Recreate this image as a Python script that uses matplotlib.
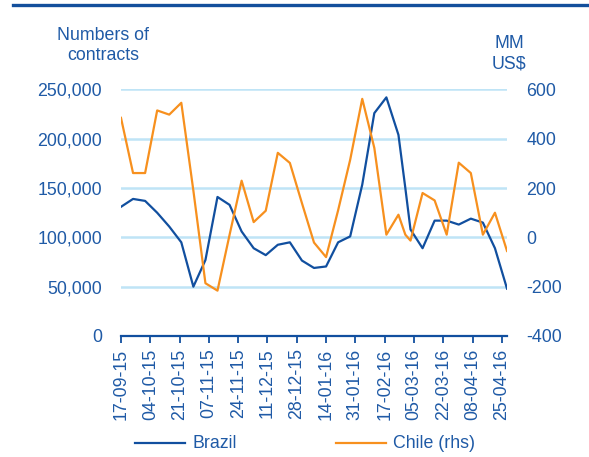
import matplotlib.pyplot as plt
import matplotlib.dates as mdates
from matplotlib.lines import Line2D
import numpy as np
import pandas as pd

plt.rcParams['font.family'] = ['Liberation Sans', 'DejaVu Sans']

# weekly observations (one extra point on 29 Feb)
dates = pd.to_datetime(
    list(pd.date_range('2015-09-17', '2016-02-25', freq='7D'))
    + [pd.Timestamp('2016-02-29')]
    + list(pd.date_range('2016-03-03', '2016-04-28', freq='7D'))
)

brazil = [131000, 139000, 137000, 125000, 111000, 95000, 50000, 77000, 141000,
          133000, 106000, 89000, 82000, 92500, 95000, 76500, 69000, 70500,
          95000, 101000, 153500, 226000, 242000, 204000, 150000, 108000, 89000,
          117000, 117000, 113000, 119000, 115000, 89000, 48000]
chile = [485, 261, 261, 515, 498, 546, 190, -186, -216, 10, 230, 62, 108, 343,
         302, 139, -21, -80, 110, 315, 562, 363, 11, 92, 11, -13, 180, 150, 11,
         303, 261, 11, 100, -55]

left_ticks = [0, 50000, 100000, 150000, 200000, 250000]
right_ticks = [-400, -200, 0, 200, 400, 600]

blue = '#114f9f'
text_blue = '#1f5aa6'
orange = '#f7901e'
grid_blue = '#bfe4f6'
fs = 12.8

fig = plt.figure(figsize=(5.89, 4.57), dpi=100)
ax = fig.add_axes([0.2054, 0.2648, 0.6554, 0.5394])
ax2 = ax.twinx()

ax.plot(dates, brazil, color=blue, lw=1.6, zorder=3)
ax2.plot(dates, chile, color=orange, lw=1.6, zorder=3)

ax.set_ylim(0, 250000)
ax2.set_ylim(-400, 600)
ax.set_xlim(dates[0], dates[-1])

ax.set_yticks(left_ticks)
ax.set_yticklabels([f'{v:,}' for v in left_ticks])
ax2.set_yticks(right_ticks)
ax2.set_yticklabels([str(v) for v in right_ticks])

xt = pd.date_range('2015-09-17', '2016-04-25', freq='17D')
ax.set_xticks(xt)
ax.xaxis.set_major_formatter(mdates.DateFormatter('%d-%m-%y'))
plt.setp(ax.get_xticklabels(), rotation=90)

for v in left_ticks[1:]:
    ax.axhline(v, color=grid_blue, lw=1.8, zorder=1)

for a in (ax, ax2):
    for s in a.spines.values():
        s.set_visible(False)
ax.spines['bottom'].set_visible(True)
ax.spines['bottom'].set_color(blue)
ax.spines['bottom'].set_linewidth(1.6)

ax.tick_params(axis='y', length=0, pad=13.5, labelsize=fs, labelcolor=text_blue)
ax2.tick_params(axis='y', length=0, pad=14, labelsize=fs, labelcolor=text_blue)
ax.tick_params(axis='x', length=5, width=1.3, color=blue, pad=4,
               labelsize=fs, labelcolor=text_blue)

fig.text(103 / 589, 1 - 35 / 457, 'Numbers of', ha='center', va='center',
         fontsize=fs, color=text_blue)
fig.text(103 / 589, 1 - 55 / 457, 'contracts', ha='center', va='center',
         fontsize=fs, color=text_blue)
fig.text(509 / 589, 1 - 44 / 457, 'MM', ha='center', va='center',
         fontsize=fs, color=text_blue)
fig.text(509 / 589, 1 - 64 / 457, 'US$', ha='center', va='center',
         fontsize=fs, color=text_blue)

# top rule
fig.add_artist(Line2D([13 / 589, 1], [1 - 5 / 457, 1 - 5 / 457],
                      color='#134f9c', lw=2.4, transform=fig.transFigure))

# legend
ly = 1 - 443 / 457
fig.add_artist(Line2D([135 / 589, 185 / 589], [ly, ly], color=blue, lw=1.6,
                      transform=fig.transFigure))
fig.text(192 / 589, ly, 'Brazil', ha='left', va='center', fontsize=fs,
         color=text_blue)
fig.add_artist(Line2D([336 / 589, 386 / 589], [ly, ly], color=orange, lw=1.6,
                      transform=fig.transFigure))
fig.text(393 / 589, ly, 'Chile (rhs)', ha='left', va='center', fontsize=fs,
         color=text_blue)

fig.savefig('out.png', dpi=100)
